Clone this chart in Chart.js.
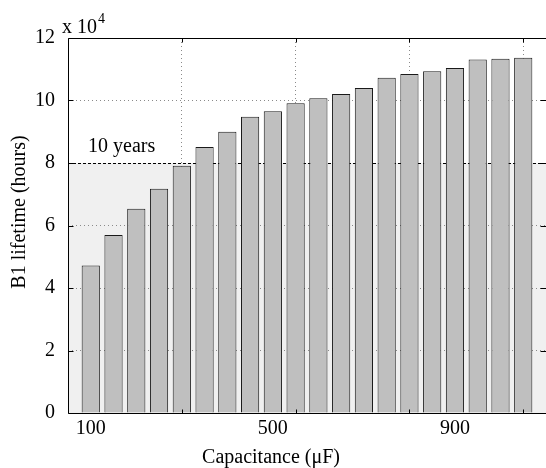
<!DOCTYPE html>
<html>
<head>
<meta charset="utf-8">
<script src="https://cdn.jsdelivr.net/npm/chart.js@4.4.1/dist/chart.umd.min.js"></script>
<style>
  html, body { margin: 0; padding: 0; background: #fff; overflow: hidden; }
  #wrap { width: 546px; height: 468px; }
</style>
</head>
<body>
<div id="wrap"><canvas id="b1-chart" width="546" height="468"></canvas></div>
<script>
// capacitance steps (uF) and B1 lifetime (hours)
var capacitance = [100, 150, 200, 250, 300, 350, 400, 450, 500, 550,
                   600, 650, 700, 750, 800, 850, 900, 950, 1000, 1050];
var lifetimeHours = [47200, 57000, 65400, 71800, 79100, 85100, 90000, 94800, 96600, 99100,
                     100700, 102100, 104000, 107300, 108500, 109400, 110400, 113100, 113400, 113700];

var xLabelValues = [100, 500, 900];        // labelled x ticks
var xGridValues = [300, 550, 800, 1050];   // dotted vertical grid
var yTickValues = [0, 20000, 40000, 60000, 80000, 100000, 120000];
var yScaleFactor = 10000;                  // shown as "x 10^4"

var limitHours = 80000;
var limitLabel = '10 years';

var xTitle = 'Capacitance (\u03bcF)';
var yTitle = 'B1 lifetime (hours)';

var serif = "'Liberation Serif', 'DejaVu Serif', serif";
var gridGray = '#8a8a8a';

Chart.defaults.font.family = serif;
Chart.defaults.font.size = 20;
Chart.defaults.color = '#000';

var matlabLook = {
    id: 'matlabLook',
    beforeDraw: function(chart) {
        // light gray band below the 10 year line
        var a = chart.chartArea, y = chart.scales.y;
        var ctx = chart.ctx;
        var yl = y.getPixelForValue(limitHours);
        ctx.save();
        ctx.fillStyle = '#f0f0f0';
        ctx.fillRect(a.left, yl, a.right - a.left, y.getPixelForValue(0) - yl);
        ctx.restore();
    },
    beforeDatasetsDraw: function(chart) {
        var a = chart.chartArea, ctx = chart.ctx;
        var yl = Math.round(chart.scales.y.getPixelForValue(limitHours)) + 0.5;
        ctx.save();
        ctx.strokeStyle = '#000';
        ctx.lineWidth = 1;
        ctx.setLineDash([3, 2]);
        ctx.beginPath();
        ctx.moveTo(a.left, yl);
        ctx.lineTo(a.right, yl);
        ctx.stroke();
        ctx.restore();
    },
    afterDraw: function(chart) {
        var a = chart.chartArea, ctx = chart.ctx;
        var xs = chart.scales.x, ys = chart.scales.y;
        var L = Math.round(a.left) + 0.5, R = Math.round(a.right) + 0.5;
        var T = Math.round(a.top) + 0.5, B = Math.round(a.bottom) + 0.5;
        ctx.save();
        ctx.strokeStyle = '#000';
        ctx.lineWidth = 1;
        ctx.beginPath();
        // box; the right side falls just past the canvas edge
        ctx.moveTo(L, T); ctx.lineTo(R, T);
        ctx.moveTo(L, T); ctx.lineTo(L, B);
        ctx.moveTo(L, B); ctx.lineTo(R, B);
        ctx.moveTo(R, T); ctx.lineTo(R, B);
        // inward tick marks
        yTickValues.forEach(function(v) {
            var py = Math.round(ys.getPixelForValue(v)) + 0.5;
            ctx.moveTo(L, py); ctx.lineTo(L + 5, py);
            ctx.moveTo(R, py); ctx.lineTo(R - 6, py);
        });
        xGridValues.forEach(function(v) {
            var px = Math.round(xs.getPixelForValue(v)) + 0.5;
            ctx.moveTo(px, T); ctx.lineTo(px, T + 4);
            ctx.moveTo(px, B); ctx.lineTo(px, B - 4);
        });
        ctx.stroke();

        ctx.fillStyle = '#000';
        ctx.font = '20px ' + serif;
        ctx.textAlign = 'left';
        ctx.textBaseline = 'alphabetic';
        ctx.fillText('x 10', 62, 33);
        var w = ctx.measureText('x 10').width;
        ctx.font = '14px ' + serif;
        ctx.fillText(String(Math.round(Math.log10(yScaleFactor))), 62 + w + 1, 23);

        ctx.font = '20px ' + serif;
        ctx.fillText(limitLabel, 88, 152);

        ctx.textAlign = 'center';
        ctx.fillText(xTitle, 271, 463);

        ctx.translate(20, 212);
        ctx.rotate(-Math.PI / 2);
        ctx.textBaseline = 'middle';
        ctx.fillText(yTitle, 0, 0);
        ctx.restore();
    }
};

var chart = new Chart(document.getElementById('b1-chart'), {
    type: 'bar',
    data: {
        datasets: [{
            label: yTitle,
            data: capacitance.map(function(c, i) { return {x: c, y: lifetimeHours[i]}; }),
            backgroundColor: '#bfbfbf',
            borderColor: '#1a1a1a',
            borderWidth: 1,
            barPercentage: 0.8,
            categoryPercentage: 1.0
        }]
    }, //data
    plugins: [matlabLook],
    options: {
        responsive: false,
        animation: false,
        devicePixelRatio: 1,
        layout: { padding: { left: 0, right: 0, top: 38, bottom: 0 } },
        plugins: {
            legend: { display: false },
            tooltip: { enabled: false }
        },
        scales: {
            x: {
                type: 'linear',
                min: 50,
                max: 1100,
                offset: false,
                afterBuildTicks: function(s) {
                    s.ticks = xLabelValues.concat(xGridValues)
                        .sort(function(p, q) { return p - q; })
                        .map(function(v) { return {value: v}; });
                },
                afterFit: function(s) { s.height = 55; },
                ticks: {
                    padding: 4,
                    autoSkip: false,
                    maxRotation: 0,
                    callback: function(v) { return xLabelValues.indexOf(v) >= 0 ? String(v) : ''; }
                },
                grid: {
                    offset: false,
                    drawTicks: false,
                    color: function(c) {
                        return c.tick && xGridValues.indexOf(c.tick.value) >= 0 ? gridGray : 'rgba(0,0,0,0)';
                    }
                },
                border: { display: false, dash: [1, 3] }
            },
            y: {
                min: 0,
                max: 120000,
                afterBuildTicks: function(s) {
                    s.ticks = yTickValues.map(function(v) { return {value: v}; });
                },
                afterFit: function(s) { s.width = 68; },
                ticks: {
                    padding: 13,
                    callback: function(v) { return String(v / yScaleFactor); }
                },
                grid: {
                    drawTicks: false,
                    color: function(c) {
                        var v = c.tick ? c.tick.value : 0;
                        return (v > 0 && v < 120000 && v !== limitHours) ? gridGray : 'rgba(0,0,0,0)';
                    }
                },
                border: { display: false, dash: [1, 3] }
            }
        } //scales
    } //options
});
</script>
</body>
</html>
